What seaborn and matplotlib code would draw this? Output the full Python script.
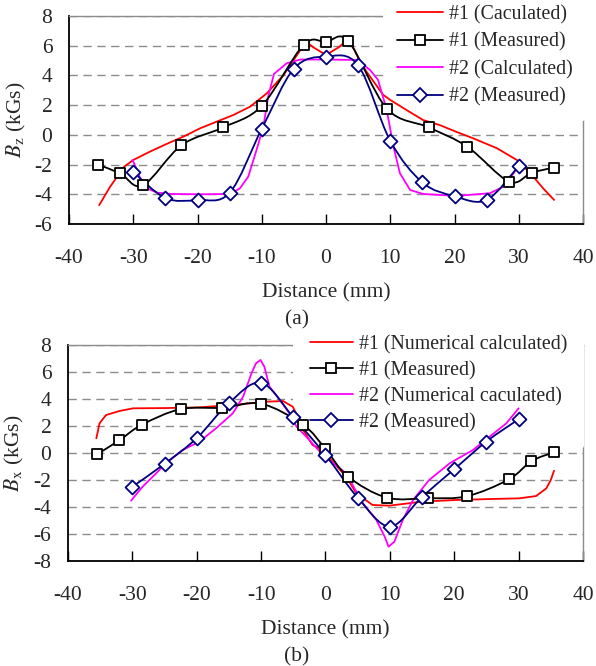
import numpy as np
import matplotlib
matplotlib.use("Agg")
import matplotlib.pyplot as plt
from matplotlib.path import Path
from matplotlib.patches import PathPatch
from matplotlib.lines import Line2D
import seaborn as sns

# ---- panel (a): Bz ----
bz_calc1_x = [-35.3, -33.6, -31.4, -30.0, -27.4, -24.8, -22.2, -19.6, -17.0, -14.4, -11.8, -9.2, -6.6, -5.1,
              -4.0, -3.3, -2.0, 0.0, 2.0, 3.3, 4.2, 5.3, 6.3, 8.9, 10.0, 12.5, 15.1, 17.7, 20.3, 22.9, 26.6,
              29.7, 31.8, 33.8, 35.5]
bz_calc1_y = [-4.73, -3.49, -2.14, -1.69, -1.13, -0.61, -0.12, 0.44, 0.89, 1.34, 1.9, 2.8, 4.03, 5.0,
              5.7, 6.35, 5.9, 5.38, 5.9, 6.39, 5.9, 4.93, 4.25, 2.69, 2.35, 1.68, 1.0, 0.66, 0.2, -0.23, -0.9,
              -1.69, -2.58, -3.6, -4.38]
bz_calc2_x = [-30.1, -29.2, -28.4, -26.3, -24.0, -19.6, -14.9, -13.4, -12.1, -10.8, -9.75, -9.0, -8.1, -6.1,
              -4.0, 0.0, 4.8, 6.85, 8.1, 9.45, 10.5, 11.5, 13.1, 15.1, 20.3, 25.5, 27.6, 29.2, 30.2]
bz_calc2_y = [-1.69, -2.6, -3.49, -3.89, -3.98, -4.0, -3.98, -3.6, -2.81, -1.0, 0.55, 2.57, 4.1, 4.82,
              5.07, 5.07, 5.04, 4.37, 3.7, 1.68, -0.79, -2.58, -3.71, -3.98, -4.11, -3.93, -3.49, -2.58, -1.91]
meas1_x = [-35.5, -32, -28.5, -22.5, -16, -10, -3.5, 0, 3.5, 9.5, 16, 22, 28.5, 32, 35.5]
bz_meas1 = [-2.0, -2.6, -3.4, -0.7, 0.5, 1.95, 6.05, 6.25, 6.3, 1.75, 0.5, -0.8, -3.15, -2.55, -2.2]
meas2_x = [-30, -25, -20, -15, -10, -5, 0, 5, 10, 15, 20, 25, 30]
bz_meas2 = [-2.5, -4.25, -4.38, -3.9, 0.4, 4.45, 5.27, 4.68, -0.4, -3.2, -4.13, -4.38, -2.1]

# ---- panel (b): Bx ----
bx_calc1_x = [-35.6, -35.1, -34.1, -32.0, -29.9, -24.7, -19.6, -14.4, -9.2, -6.6, -5.1, -4.0, -3.8, -2.0,
              -0.4, 1.1, 3.2, 4.8, 7.3, 9.9, 15.1, 20.3, 25.5, 30.1, 32.7, 34.3, 35.0, 35.5]
bx_calc1_y = [1.09, 2.2, 2.81, 3.11, 3.31, 3.33, 3.38, 3.56, 3.8, 3.85, 3.43, 2.44, 1.95, 0.59,
              0.22, -0.64, -1.75, -2.99, -3.85, -3.9, -3.6, -3.48, -3.41, -3.36, -3.19, -2.62, -2.0, -1.31]
bx_calc2_x = [-30.2, -28.4, -26.3, -24.7, -22.2, -19.6, -17.0, -14.4, -12.8, -11.5, -10.8, -10.1, -9.5, -8.7,
              -7.1, -5.6, -4.5, -3.0, -0.4, 3.2, 5.8, 7.9, 9.2, 9.8, 10.7, 12.0, 13.6, 16.1, 19.3, 22.9,
              25.5, 28.1, 30.0]
bx_calc2_y = [-3.53, -2.49, -1.5, -0.72, 0.22, 0.84, 1.83, 2.94, 4.17, 5.9, 6.64, 6.89, 6.4, 4.91,
              3.93, 2.94, 1.95, 1.21, -0.15, -1.5, -3.73, -4.96, -6.2, -6.94, -6.57, -4.96, -3.48, -2.0, -0.76, 0.22,
              1.21, 2.2, 3.31]
bx_meas1 = [-0.1, 0.95, 2.1, 3.25, 3.35, 3.65, 2.1, 0.3, -1.75, -3.3, -3.35, -3.2, -1.95, -0.6, 0.05]
bx_meas2 = [-2.5, -0.8, 1.1, 3.7, 5.2, 2.65, -0.15, -3.3, -5.45, -3.25, -1.2, 0.85, 2.5]

labels_a = ["#1 (Caculated)", "#1 (Measured)", "#2 (Calculated)", "#2 (Measured)"]
labels_b = ["#1 (Numerical calculated)", "#1 (Measured)", "#2 (Numerical caculated)", "#2 (Measured)"]

RED, BLACK, MAGENTA, NAVY = "#ff0000", "#000000", "#ff00ff", "#000080"
FS = 15.5
FS_LEG = 14.3

sns.set_theme(style="white")
plt.rcParams["font.family"] = ["Liberation Serif", "DejaVu Serif"]
plt.rcParams["mathtext.fontset"] = "stix"
plt.rcParams["axes.unicode_minus"] = False


def smooth_path(ax, xs, ys, color):
    # excel style smoothed line (bezier through the measured points)
    pts = np.column_stack([xs, ys]).astype(float)
    verts = [pts[0]]
    codes = [Path.MOVETO]
    n = len(pts)
    for i in range(n - 1):
        p0 = pts[max(i - 1, 0)]
        p1 = pts[i]
        p2 = pts[i + 1]
        p3 = pts[min(i + 2, n - 1)]
        verts += [p1 + (p2 - p0) / 6, p2 - (p3 - p1) / 6, p2]
        codes += [Path.CURVE4] * 3
    ax.add_patch(PathPatch(Path(verts, codes), fill=False, edgecolor=color, lw=1.3, zorder=4))


def draw_panel(ax, c1x, c1y, m1, c2x, c2y, m2, ylim, ylabel):
    sns.lineplot(x=c1x, y=c1y, ax=ax, color=RED, lw=1.3, sort=False, estimator=None, zorder=3)
    sns.lineplot(x=c2x, y=c2y, ax=ax, color=MAGENTA, lw=1.3, sort=False, estimator=None, zorder=3)
    smooth_path(ax, meas1_x, m1, BLACK)
    smooth_path(ax, meas2_x, m2, NAVY)
    sns.scatterplot(x=meas1_x, y=m1, ax=ax, marker="s", s=60, color="white",
                    edgecolor=BLACK, linewidth=1.3, zorder=5)
    sns.scatterplot(x=meas2_x, y=m2, ax=ax, marker="D", s=50, color="white",
                    edgecolor=NAVY, linewidth=1.3, zorder=5)
    ax.set_xlim(-40, 40)
    ax.set_ylim(*ylim)
    ax.set_xticks(range(-40, 41, 10))
    ax.set_yticks(range(ylim[0], ylim[1] + 1, 2))
    ax.yaxis.grid(True, color="#8c8c8c", lw=1.0, linestyle=(0, (6, 4)))
    ax.xaxis.grid(False)
    for s in ["left", "bottom"]:
        ax.spines[s].set_color("black")
        ax.spines[s].set_linewidth(1.3)
    for s in ["top", "right"]:
        ax.spines[s].set_color("#8c8c8c")
        ax.spines[s].set_linewidth(1.0)
    ax.tick_params(axis="x", direction="in", length=7, width=1, color="black",
                   labelsize=FS, pad=18, bottom=True)
    ax.tick_params(axis="y", length=0, labelsize=FS, pad=12)
    ax.set_xlabel("Distance (mm)", fontsize=FS, labelpad=11)
    ax.set_ylabel(ylabel, fontsize=FS, labelpad=5)


def handles():
    return [
        Line2D([], [], color=RED, lw=1.3),
        Line2D([], [], color=BLACK, lw=1.3, marker="s", ms=7.5, mfc="white", mec=BLACK, mew=1.3),
        Line2D([], [], color=MAGENTA, lw=1.3),
        Line2D([], [], color=NAVY, lw=1.3, marker="D", ms=7, mfc="white", mec=NAVY, mew=1.3),
    ]


fig = plt.figure(figsize=(5.96, 6.66), dpi=100)
ax1 = fig.add_axes([69 / 596, 1 - 224 / 666, 514 / 596, 208 / 666])
ax2 = fig.add_axes([68 / 596, 1 - 561 / 666, 515 / 596, 216 / 666])

draw_panel(ax1, bz_calc1_x, bz_calc1_y, bz_meas1, bz_calc2_x, bz_calc2_y, bz_meas2,
           (-6, 8), r"$B_{\rm z}$ (kGs)")
draw_panel(ax2, bx_calc1_x, bx_calc1_y, bx_meas1, bx_calc2_x, bx_calc2_y, bx_meas2,
           (-8, 8), r"$B_{\rm x}$ (kGs)")

# legend box hides the gridlines and frame but sits under the data
leg1 = ax1.legend(handles(), labels_a, loc="upper left", bbox_to_anchor=(383 / 596, 1 + 9 / 666),
                  bbox_transform=fig.transFigure, fontsize=FS_LEG, frameon=True, facecolor="white",
                  edgecolor="none", framealpha=1, borderpad=0.7, borderaxespad=0, handlelength=2.3,
                  handletextpad=0.3, labelspacing=0.42)
leg1.set_zorder(2.7)
leg2 = ax2.legend(handles(), labels_b, loc="upper left", bbox_to_anchor=(293 / 596, 1 - 318 / 666),
                  bbox_transform=fig.transFigure, fontsize=FS_LEG, frameon=True, facecolor="white",
                  edgecolor="none", framealpha=1, borderpad=0.85, borderaxespad=0, handlelength=2.15,
                  handletextpad=0.3, labelspacing=0.34)
leg2.set_zorder(2.7)

fig.text(297 / 596, 1 - 320 / 666, "(a)", ha="center", va="center", fontsize=FS)
fig.text(297 / 596, 1 - 657 / 666, "(b)", ha="center", va="center", fontsize=FS)

fig.savefig("out.png", dpi=100)
